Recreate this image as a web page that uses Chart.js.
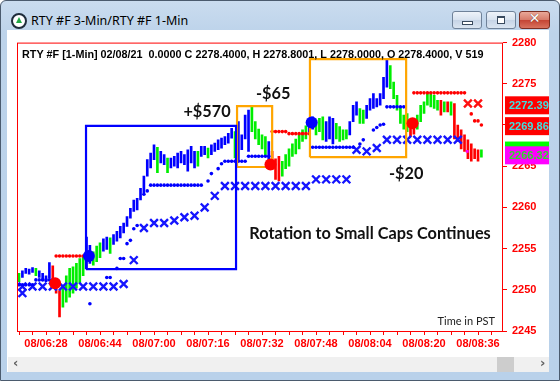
<!DOCTYPE html>
<html>
<head>
<meta charset="utf-8">
<script src="https://cdn.jsdelivr.net/npm/chart.js@4.4.1/dist/chart.umd.min.js"></script>
<style>
  body { margin: 0; width: 560px; height: 381px; overflow: hidden; background: #fff; font-family: "Noto Sans", sans-serif; }
  #win { position: absolute; left: 0; top: 0; width: 558px; height: 379px; border: 1px solid #4b5b6e; border-radius: 6px 6px 0 0;
         background: linear-gradient(#cadcef 0px, #bdd3ea 32px, #b9d1ea 100%); }
  .icon { position: absolute; left: 10px; top: 12px; width: 12px; height: 12px; border-radius: 50%; background: #fff; border: 2px solid #1f2c3b; }
  .icon:after { content: ""; position: absolute; left: 3px; top: 2px; border-left: 3px solid transparent; border-right: 3px solid transparent; border-bottom: 6px solid #22a845; }
  .ttl { position: absolute; left: 30px; top: 11px; font-size: 12.5px; color: #000; }
  .btn { position: absolute; top: 10px; height: 18px; box-sizing: border-box; border: 1px solid #6f8299; border-radius: 3px;
         background: linear-gradient(#eef3f9, #d7e2ef 50%, #c6d4e6 51%, #dae5f1); }
  .bmin { left: 451px; width: 30px; }
  .bmax { left: 485px; width: 30px; }
  .bcls { left: 518px; width: 31px; border-color: #7b2d22; background: linear-gradient(#e9a898, #d67a69 50%, #c44434 51%, #d8725f); }
  .bmin:after { content: ""; position: absolute; left: 9px; top: 9px; width: 9px; height: 2px; background: #fff; border: 1px solid #394a5e; }
  .bmax:after { content: ""; position: absolute; left: 10px; top: 4px; width: 6px; height: 5px; background: #fff; border: 1px solid #394a5e; border-top-width: 2px; }
  .bcls span { position: absolute; left: 0; top: -2px; width: 29px; text-align: center; color: #fff; font: bold 14px "DejaVu Sans", sans-serif; text-shadow: 0 0 1px #4a1a14; }
  #client { position: absolute; left: 7px; top: 30px; width: 542px; height: 342px; background: #fff; }
  #c { position: absolute; left: 8px; top: 31px; }
  #scroll { position: absolute; left: 8px; top: 357px; width: 541px; height: 15px; background: #f0f0f0; }
  #scroll .thumb { position: absolute; left: 489px; top: 0; width: 17px; height: 15px; background: #cdcdcd; }
  #scroll .l, #scroll .r { position: absolute; top: -2px; font: bold 13px "DejaVu Sans", sans-serif; color: #606060; }
  #scroll .l { left: 5px; } #scroll .r { left: 532px; }
</style>
</head>
<body>
<div id="win">
  <div class="icon"></div>
  <div class="ttl">RTY #F 3-Min/RTY #F 1-Min</div>
  <div class="btn bmin"></div>
  <div class="btn bmax"></div>
  <div class="btn bcls"><span>✕</span></div>
</div>
<div id="client"></div>
<canvas id="c" width="541" height="326"></canvas>
<div id="scroll"><span class="l">&lsaquo;</span><div class="thumb"></div><span class="r">&rsaquo;</span></div>

<script>
// time axis is minutes after 06:00 on the 8th
const xLabelMins = [28, 44, 60, 76, 92, 108, 124, 140, 156];
const xLabels = ['08/06:28', '08/06:44', '08/07:00', '08/07:16', '08/07:32', '08/07:48', '08/08:04', '08/08:20', '08/08:36'];
const yTicks = [2245, 2250, 2255, 2260, 2265, 2270, 2275, 2280];

// 1-min bars, first bar at minute 20
const firstMin = 20;
const barColor = ('gbbbbgbbbb' + 'rrrggggggg' + 'bbgggbbgbb' + 'bbbbbbbbbb' + 'bgbbgbbbbb' + 'bbbgbbgbbb' + 'bbbbgbbbbg' +
  'ggggbrrrgg' + 'ggggggbbgg' + 'gbbbggggbb' + 'bggbbbbbbb' + 'ggggggrrgg' + 'gggggrgrgr' + 'rrrrrrrg').split('');
const barHigh = [
  2252.0, 2252.3, 2252.6, 2252.5, 2252.7, 2252.6, 2252.3, 2252.0, 2251.7, 2253.3,
  2252.9, 2251.4, 2249.9, 2250.5, 2251.7, 2252.6, 2252.8, 2253.2, 2253.8, 2254.1,
  2256.4, 2255.4, 2254.6, 2255.3, 2255.7, 2256.2, 2256.4, 2256.3, 2256.7, 2257.1,
  2257.7, 2258.1, 2258.9, 2259.9, 2260.9, 2261.1, 2262.3, 2263.8, 2265.8, 2266.6,
  2267.6, 2267.3, 2266.8, 2266.4, 2266.0, 2266.0, 2266.2, 2266.6, 2266.8, 2266.4,
  2267.0, 2267.4, 2266.8, 2266.8, 2267.4, 2267.4, 2267.2, 2267.6, 2267.8, 2268.2,
  2268.4, 2268.6, 2269.0, 2269.6, 2269.2, 2270.4, 2268.8, 2271.2, 2271.8, 2272.4,
  2270.4, 2269.5, 2268.8, 2268.6, 2268.0, 2266.8, 2265.9, 2266.2, 2265.6, 2266.4,
  2267.1, 2267.7, 2268.3, 2268.9, 2269.4, 2269.9, 2270.6, 2271.0, 2270.6, 2270.8,
  2271.0, 2270.4, 2271.0, 2270.8, 2270.2, 2269.8, 2269.4, 2269.4, 2270.4, 2272.4,
  2272.8, 2272.0, 2271.8, 2272.4, 2273.2, 2273.8, 2273.2, 2273.8, 2275.8, 2277.9,
  2277.2, 2275.2, 2273.6, 2272.2, 2271.2, 2271.4, 2270.6, 2270.4, 2271.2, 2272.4,
  2272.8, 2273.8, 2273.8, 2273.6, 2273.0, 2273.0, 2272.8, 2272.8, 2272.8, 2272.6,
  2270.0, 2269.4, 2268.8, 2268.2, 2267.7, 2267.1, 2267.0, 2267.0
];
const barLow = [
  2251.0, 2251.5, 2252.0, 2251.9, 2252.1, 2251.7, 2251.5, 2251.1, 2251.0, 2251.4,
  2250.5, 2249.6, 2246.7, 2247.9, 2248.5, 2249.1, 2249.6, 2250.2, 2250.8, 2251.7,
  2252.6, 2253.2, 2253.0, 2253.4, 2253.9, 2254.7, 2254.9, 2254.4, 2255.5, 2255.9,
  2256.3, 2256.9, 2257.7, 2258.7, 2259.5, 2259.7, 2260.9, 2261.8, 2263.8, 2264.8,
  2265.8, 2264.2, 2265.4, 2265.2, 2264.2, 2264.8, 2265.0, 2264.8, 2265.4, 2265.2,
  2264.4, 2265.4, 2264.8, 2265.0, 2266.2, 2266.4, 2266.0, 2266.4, 2266.8, 2267.0,
  2267.2, 2267.6, 2267.8, 2268.4, 2266.0, 2265.6, 2267.0, 2268.3, 2266.8, 2269.2,
  2268.3, 2267.6, 2267.1, 2266.4, 2265.8, 2264.6, 2263.4, 2263.2, 2263.8, 2264.7,
  2265.0, 2266.2, 2266.5, 2267.1, 2268.0, 2268.3, 2269.2, 2269.5, 2268.8, 2269.2,
  2268.2, 2268.0, 2268.3, 2267.7, 2268.3, 2268.0, 2268.2, 2268.3, 2268.8, 2270.4,
  2271.2, 2270.2, 2270.2, 2270.8, 2271.8, 2272.0, 2272.2, 2272.4, 2273.2, 2274.6,
  2274.4, 2273.2, 2271.8, 2270.2, 2269.5, 2269.2, 2268.6, 2268.9, 2269.5, 2270.4,
  2271.4, 2272.4, 2272.2, 2272.0, 2271.8, 2271.2, 2271.6, 2271.6, 2271.2, 2268.3,
  2268.0, 2267.1, 2266.8, 2265.9, 2265.6, 2265.9, 2265.6, 2266.1
];

// trailing stops [minute, price]
const blueStops = [
  [20, 2250.6], [21, 2250.6], [22, 2250.6], [23, 2250.6], [24, 2250.6],
  [25, 2251.2], [26, 2251.2], [27, 2251.2], [28, 2251.2], [29, 2251.2], [30, 2251.2],
  [41, 2248.3], [46, 2251.5], [47, 2251.5], [49, 2252.6], [50, 2253.8], [51, 2253.8],
  [52, 2255.6], [53, 2256.0], [54, 2257.4], [55, 2257.8], [57, 2261.6], [58, 2262.0],
  [59, 2262.7], [60, 2262.7], [61, 2262.7], [62, 2262.7], [63, 2262.7], [64, 2262.7], [65, 2262.7], [66, 2262.7],
  [67, 2262.7], [68, 2262.7], [69, 2262.7], [70, 2262.7], [71, 2262.7], [72, 2262.7], [73, 2262.7], [74, 2262.7],
  [76, 2263.2], [77, 2264.1], [79, 2264.7], [80, 2265.3],
  [81, 2265.6], [82, 2265.6], [83, 2265.6], [84, 2265.6], [85, 2265.6], [86, 2265.6], [87, 2265.6],
  [88, 2266.2], [89, 2266.2], [90, 2266.2], [91, 2266.2], [92, 2266.2], [93, 2266.2], [94, 2266.2],
  [107, 2267.3], [108, 2267.3], [109, 2267.3], [110, 2267.3], [111, 2267.3], [112, 2267.3], [113, 2267.3],
  [114, 2267.3], [115, 2267.3], [116, 2267.3], [117, 2267.3], [118, 2267.3], [119, 2267.3],
  [121, 2267.7], [122, 2268.2], [125, 2269.4], [126, 2269.7], [127, 2270.0], [128, 2270.1],
  [129, 2272.2], [130, 2272.2], [131, 2272.2], [132, 2272.2], [133, 2272.2], [134, 2272.2]
];
const redStops = [
  [31, 2254.1], [32, 2254.1], [33, 2254.1], [34, 2254.1], [35, 2254.1], [36, 2254.1], [37, 2254.1], [38, 2254.1], [39, 2254.1], [40, 2254.1],
  [95, 2269.2], [96, 2269.2], [97, 2269.2], [98, 2269.2], [99, 2269.2],
  [100, 2268.95], [101, 2268.95], [102, 2268.95], [103, 2268.95], [104, 2268.95], [105, 2268.95], [106, 2268.95],
  [137, 2273.9], [138, 2273.9], [139, 2273.9], [140, 2273.9], [141, 2273.9], [142, 2273.9], [143, 2273.9], [144, 2273.9],
  [145, 2273.9], [146, 2273.9], [147, 2273.9], [148, 2273.9], [149, 2273.9], [150, 2273.9], [151, 2273.9], [152, 2273.9],
  [154, 2271.35], [155, 2270.5], [156, 2270.5], [157, 2270.0]
];
// 3-min stops drawn as crosses
const blueCross = [
  [21, 2249.6], [21, 2250.4], [24, 2250.4], [27, 2250.4], [30, 2250.4], [33, 2250.4], [36, 2250.4], [39, 2250.4],
  [42, 2250.4], [45, 2250.4], [48, 2250.4], [51, 2250.7], [54, 2253.6], [57, 2257.5], [60, 2258.1], [63, 2258.1],
  [66, 2258.4], [69, 2258.8], [72, 2259.0], [75, 2260.0], [78, 2261.4], [81, 2262.6], [84, 2262.6], [87, 2262.6],
  [90, 2262.6], [93, 2262.6], [96, 2262.6], [99, 2262.6], [102, 2262.6], [105, 2262.6], [108, 2263.4], [111, 2263.4],
  [114, 2263.4], [117, 2263.4], [120, 2267.0], [123, 2266.8], [126, 2267.2], [129, 2268.2], [132, 2268.2], [135, 2268.2],
  [138, 2268.2], [141, 2268.2], [144, 2268.2], [147, 2268.2], [150, 2268.2]
];
const redCross = [[153, 2272.6], [156, 2272.6]];
// entries / exits
const buySignals = [[40.7, 2254.1], [106.7, 2270.3]];
const sellSignals = [[30.7, 2250.8], [94.5, 2265.2], [136.6, 2270.2]];
const oddTick = [[152.8, 2266.8]];

// trade boxes [fromMin, toMin, lowPrice, highPrice]
const winBox = [39.85, 84.3, 2252.5, 2269.9];
const lossBox1 = [84.6, 95.0, 2264.9, 2272.3];
const lossBox2 = [106.2, 134.7, 2266.1, 2278.0];

const notes = [
  ['+$570', 75.7, 2271.6],
  ['-$65', 95.3, 2273.8],
  ['-$20', 134.7, 2264.1],
  ['Rotation to Small Caps Continues', 124, 2256.8]
];
const priceFlags = [
  [2272.39, '2272.393', '#ff0000', '#3fe0e0'],
  [2269.86, '2269.864', '#ff0000', '#3fe0e0'],
  [2266.9, '', '#00ff00', '#00ff00'],
  [2266.32, '2266.321', '#ff00ff', '#2ed82e']
];
const header = 'RTY #F [1-Min] 02/08/21  0.0000 C 2278.4000, H 2278.8001, L 2278.0000, O 2278.4000, V 519';

const colorOf = { b: '#0000ff', g: '#00ee00', r: '#ff0000' };
const pts = arr => arr.map(([x, y]) => ({ x, y }));
const boxPath = b => [{ x: b[0], y: b[2] }, { x: b[1], y: b[2] }, { x: b[1], y: b[3] }, { x: b[0], y: b[3] }, { x: b[0], y: b[2] }];

const tickMins = [];
for (let m = 20; m <= 160; m += 4) tickMins.push(m);

const overlay = {
  id: 'overlay',
  afterDraw(chart) {
    const { ctx, chartArea: a, scales: { x, y } } = chart;
    ctx.save();
    ctx.strokeStyle = '#ff0000';
    ctx.lineWidth = 1;
    ctx.strokeRect(a.left + 0.5, a.top + 0.5, a.right - a.left - 1, a.bottom - a.top);

    ctx.fillStyle = '#000';
    ctx.font = 'bold 10.8px "Liberation Sans"';
    ctx.textBaseline = 'middle';
    ctx.fillText(header, a.left + 5, a.top + 12);

    ctx.textAlign = 'center';
    ctx.font = 'bold 16.3px Lato';
    ctx.fillStyle = '#111';
    notes.forEach(([t, m, p]) => ctx.fillText(t, x.getPixelForValue(m), y.getPixelForValue(p)));

    ctx.textAlign = 'right';
    ctx.font = '11px Lato';
    ctx.fillStyle = '#222';
    ctx.fillText('Time in PST', a.right - 8, a.bottom - 10);

    ctx.textAlign = 'left';
    ctx.font = 'bold 11px "Liberation Sans"';
    priceFlags.forEach(([v, txt, bg, fg]) => {
      const py = y.getPixelForValue(v);
      ctx.fillStyle = bg;
      ctx.fillRect(a.right + 2, py - 9, chart.width - a.right, 18);
      ctx.fillStyle = fg;
      ctx.fillText(txt, a.right + 6, py + 1);
    });
    ctx.restore();
  }
};

const dots = (data, color, order) => ({ type: 'line', data: pts(data), showLine: false, order,
  pointStyle: 'circle', pointRadius: 1.8, pointBackgroundColor: color, pointBorderWidth: 0 });
const crosses = (data, color) => ({ type: 'line', data: pts(data), showLine: false, order: 4,
  pointStyle: 'crossRot', pointRadius: 5.5, pointBorderColor: color, pointBorderWidth: 2.4 });
const signal = (data, color) => ({ type: 'line', data: pts(data), showLine: false, order: 1,
  pointStyle: 'circle', pointRadius: 6, pointBackgroundColor: color, pointBorderWidth: 0 });
const box = (b, color) => ({ type: 'line', data: boxPath(b), order: 2, borderColor: color, borderWidth: 2.2,
  pointRadius: 0, tension: 0, fill: false });

new Chart(document.getElementById('c'), {
  type: 'bar',
  data: {
    datasets: [
      { data: barHigh.map((h, i) => ({ x: firstMin + i, y: [barLow[i], h] })), order: 5,
        backgroundColor: barColor.map(c => colorOf[c]), barThickness: 2, borderWidth: 0 },
      crosses(blueCross, '#1515ff'),
      crosses(redCross, '#ff1010'),
      dots(blueStops, '#0000ff', 3),
      dots(redStops, '#ff0000', 3),
      { type: 'line', data: pts(oddTick), showLine: false, order: 3, pointStyle: 'rect', pointRadius: 2,
        pointBackgroundColor: '#ff00ff', pointBorderWidth: 0 },
      box(winBox, '#0000ff'),
      box(lossBox1, '#ffa500'),
      box(lossBox2, '#ffa500'),
      signal(buySignals, '#0000ff'),
      signal(sellSignals, '#ff0000')
    ]
  },
  options: {
    responsive: false,
    animation: false,
    layout: { padding: { left: 9, top: 9, right: 0, bottom: 0 } },
    plugins: { legend: { display: false }, tooltip: { enabled: false } },
    scales: {
      x: {
        type: 'linear', min: 19.4, max: 163.4, offset: false,
        afterBuildTicks: s => { s.ticks = tickMins.map(v => ({ value: v })); },
        afterFit: s => { s.height = 26; },
        ticks: {
          autoSkip: false, maxRotation: 0, padding: 2, color: '#ff0000',
          font: { family: 'Liberation Sans', weight: 'bold', size: 11 },
          callback: v => { const i = xLabelMins.indexOf(v); return i < 0 ? '' : xLabels[i]; }
        },
        grid: { drawOnChartArea: false, offset: false, color: '#ff0000', tickLength: 4 },
        border: { display: false }
      },
      y: {
        position: 'right', min: 2245, max: 2280, beginAtZero: false,
        afterBuildTicks: s => { s.ticks = yTicks.map(v => ({ value: v })); },
        afterFit: s => { s.width = 46; },
        ticks: { padding: 5, color: '#ff0000', font: { family: 'Liberation Sans', weight: 'bold', size: 11 },
          callback: v => String(v) },
        grid: { drawOnChartArea: false, color: '#ff0000', tickLength: 4 },
        border: { display: false }
      }
    }
  },
  plugins: [overlay]
});
</script>
</body>
</html>
